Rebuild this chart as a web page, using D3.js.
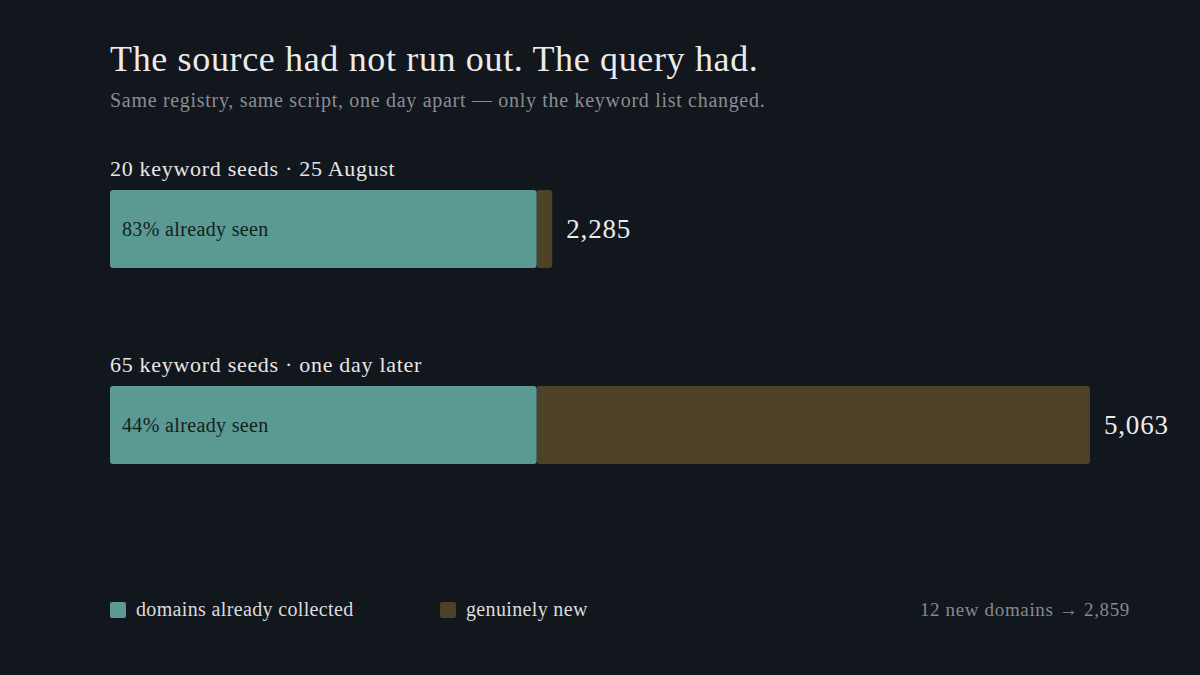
<!DOCTYPE html>
<html>
<head>
<meta charset="utf-8">
<script src="https://cdn.jsdelivr.net/npm/d3@7"></script>
<style>
  html, body { margin: 0; padding: 0; background: #12161d; }
  svg { display: block; }
  text { font-family: Georgia, "Liberation Serif", "DejaVu Serif", serif; }
</style>
</head>
<body>
<div id="chart"></div>
<script>
// rows, top to bottom
var rowLabels = ["20 keyword seeds \u00b7 25 August", "65 keyword seeds \u00b7 one day later"];
var seenValues = [2204, 2204];
var newValues = [81, 2859];
var totals = [2285, 5063];
var seenPct = ["83%", "44%"];

var legendLabels = ["domains already collected", "genuinely new"];
var noteText = "12 new domains \u2192 2,859";

var width = 1200, height = 675;
var margin = {left: 110, right: 110};
var barH = 78;

var colors = {seen: "#5b9a92", fresh: "#4d4228"};
var format = d3.format(",");

var svg = d3.select("#chart")
            .append("svg")
            .attr("width", width)
            .attr("height", height);

svg.append("rect").attr("width", width).attr("height", height).attr("fill", "#12161d");

var x = d3.scaleLinear()
    .domain([0, d3.max(totals)])
    .range([margin.left, 1090]);

var y = d3.scalePoint()
    .domain(rowLabels)
    .range([190, 386]);

// title block
svg.append("text")
    .attr("x", 110).attr("y", 71)
    .attr("fill", "#ebebeb")
    .style("font-size", "36px")
    .style("letter-spacing", "0.65px")
    .text("The source had not run out. The query had.");

svg.append("text")
    .attr("x", 110).attr("y", 107)
    .attr("fill", "#8a8d92")
    .style("font-size", "20px")
    .style("letter-spacing", "0.7px")
    .text("Same registry, same script, one day apart \u2014 only the keyword list changed.");

var rows = rowLabels.map(function(d, i) {
  return {label: d, seen: seenValues[i], fresh: newValues[i], total: totals[i], pct: seenPct[i]};
});

var g = svg.selectAll("g.row")
    .data(rows)
    .enter().append("g")
    .attr("class", "row")
    .attr("transform", function(d) { return "translate(0," + y(d.label) + ")"; });

g.append("text")
    .attr("x", 110).attr("y", -14)
    .attr("fill", "#e6e6e6")
    .style("font-size", "22px")
    .style("letter-spacing", "0.7px")
    .text(function(d) { return d.label; });

g.append("rect")
    .attr("x", function(d) { return x(d.seen); })
    .attr("width", function(d) { return x(d.seen + d.fresh) - x(d.seen); })
    .attr("height", barH)
    .attr("rx", 3)
    .attr("fill", colors.fresh);

g.append("rect")
    .attr("x", x(0))
    .attr("width", function(d) { return x(d.seen) - x(0); })
    .attr("height", barH)
    .attr("rx", 3)
    .attr("fill", colors.seen);

g.append("text")
    .attr("x", 122).attr("y", barH / 2 + 7)
    .attr("fill", "#13211f")
    .style("font-size", "20px")
    .style("letter-spacing", "0.35px")
    .text(function(d) { return d.pct + " already seen"; });

g.append("text")
    .attr("x", function(d) { return x(d.total) + 14; })
    .attr("y", barH / 2 + 9)
    .attr("fill", "#ececec")
    .style("font-size", "27px")
    .style("letter-spacing", "0.8px")
    .text(function(d) { return format(d.total); });

// legend
var legend = svg.selectAll("g.legend")
    .data(legendLabels)
    .enter().append("g")
    .attr("class", "legend")
    .attr("transform", function(d, i) { return "translate(" + (110 + i * 330) + ",602)"; });

legend.append("rect")
    .attr("width", 16).attr("height", 16)
    .attr("rx", 2)
    .attr("fill", function(d, i) { return i == 0 ? colors.seen : colors.fresh; });

legend.append("text")
    .attr("x", 26).attr("y", 14)
    .attr("fill", "#dcdcdc")
    .style("font-size", "20px")
    .style("letter-spacing", "0.35px")
    .text(function(d) { return d; });

svg.append("text")
    .attr("x", 1130).attr("y", 616)
    .attr("text-anchor", "end")
    .attr("fill", "#86898e")
    .style("font-size", "19px")
    .style("letter-spacing", "0.65px")
    .text(noteText);
</script>
</body>
</html>
